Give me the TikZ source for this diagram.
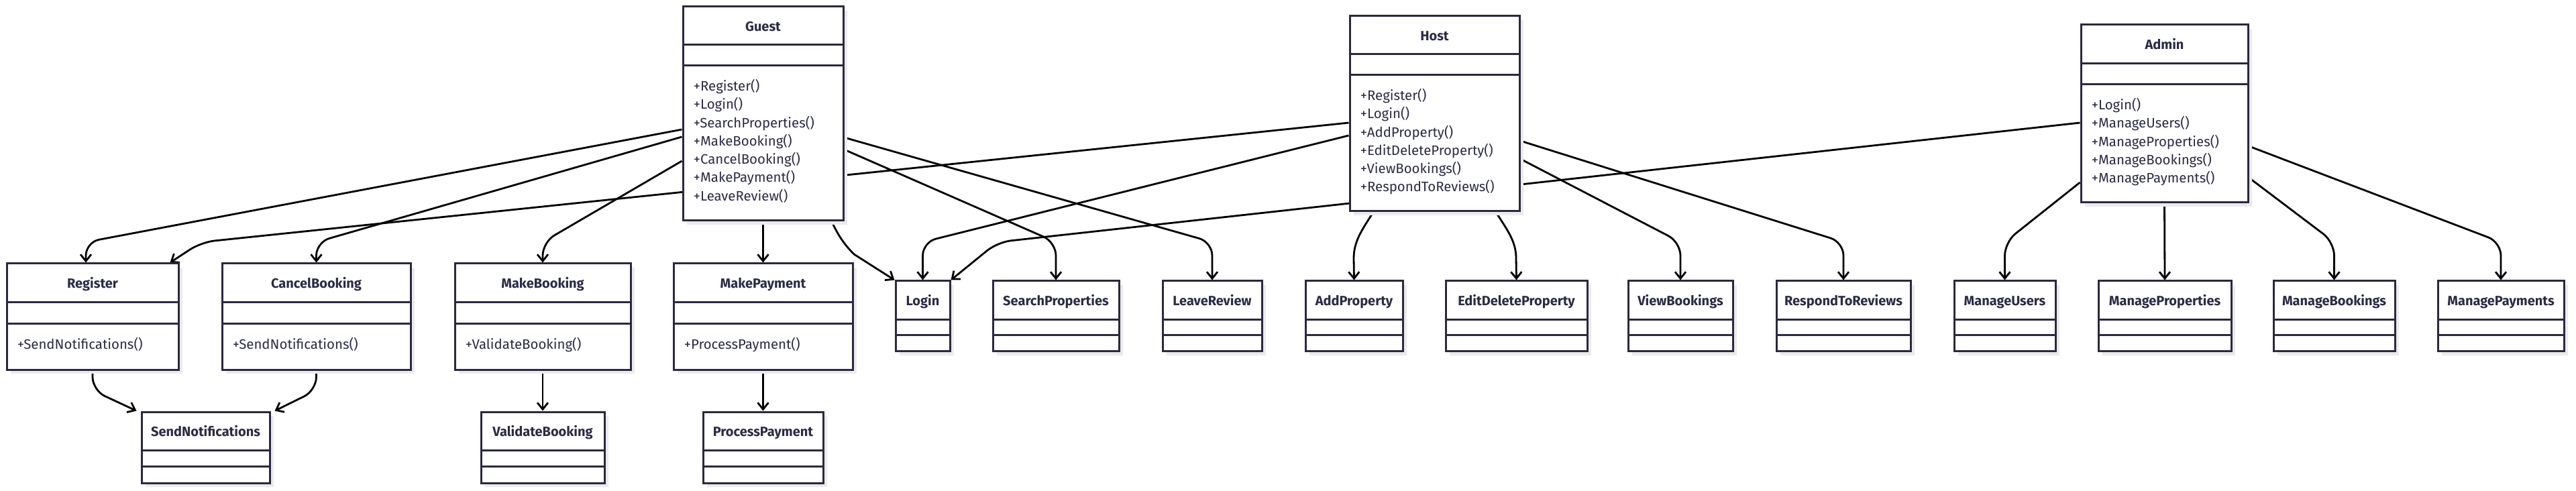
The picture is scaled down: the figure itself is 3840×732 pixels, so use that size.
\documentclass[tikz,border=0pt]{standalone}
\usepackage{fontspec}
\setmainfont{Fira Sans}
\usetikzlibrary{arrows.meta,calc,fit,shadows}
\definecolor{umlink}{HTML}{2A2940}
\definecolor{umltext}{HTML}{2B2B45}
\definecolor{umlshadow}{HTML}{EBEBEB}
\pgfdeclarelayer{background}
\pgfsetlayers{background,main}
\tikzset{
  classbox/.style={draw=umlink, line width=1.5pt, fill=white, inner sep=0pt,
    drop shadow={shadow xshift=3pt, shadow yshift=-3pt, fill=umlshadow, opacity=1}},
  divline/.style={draw=umlink, line width=1.4pt},
  titletext/.style={font=\bfseries\fontsize{10}{12}\selectfont, text=umltext, inner sep=0pt, anchor=base},
  methodtext/.style={font=\fontsize{10.2}{12}\selectfont, text=umltext, inner sep=0pt, anchor=base west},
  link/.style={draw=black, line width=1.4pt, -{Straight Barb[length=5pt,width=8pt,line width=1.4pt]}, rounded corners=10pt},
  linkc/.style={draw=black, line width=1.4pt, -{Straight Barb[length=5pt,width=8pt,line width=1.4pt]}},
}
% #1 name, #2 x1, #3 y1, #4 x2, #5 y2, #6 header height, #7 attribute height, #8 title
\newcommand{\umlclass}[8]{%
  \node[classbox, fit={(#2,#3) (#4,#5)}] (#1) {};
  \draw[divline] ($(#1.north west)+(0,#6)$) -- ($(#1.north east)+(0,#6)$);
  \draw[divline] ($(#1.north west)+(0,#6+#7)$) -- ($(#1.north east)+(0,#6+#7)$);
  \node[titletext] (#1-title) at ($(#1.north)+(0,38)$) {#8};
}
\newcommand{\umlmethods}[3]{%
  \foreach \m [count=\i] in {#3} {\node[methodtext] (#1-m\i) at ($(#1.north west)+(17,{#2+(\i-1)*27.3})$) {\m};}%
}
\begin{document}
\begin{tikzpicture}[x=0.5pt,y=-0.5pt]
\begin{pgfonlayer}{background}
  \fill[white] (0,0) rectangle (3840,732);
\end{pgfonlayer}
\useasboundingbox (0,0) rectangle (3840,732);

% top classes
\umlclass{guest}{1018}{10}{1257}{329}{58}{31}{Guest}
\umlmethods{guest}{127}{+Register(),+Login(),+SearchProperties(),+MakeBooking(),+CancelBooking(),+MakePayment(),+LeaveReview()}
\umlclass{host}{2012}{24}{2265}{315}{58}{31}{Host}
\umlmethods{host}{127}{+Register(),+Login(),+AddProperty(),+EditDeleteProperty(),+ViewBookings(),+RespondToReviews()}
\umlclass{admin}{3102}{37}{3351}{302}{59}{31}{Admin}
\umlmethods{admin}{128}{+Login(),+ManageUsers(),+ManageProperties(),+ManageBookings(),+ManagePayments()}

% second row with methods
\umlclass{register}{10}{393}{266}{551}{59}{32}{Register}
\umlmethods{register}{129}{+SendNotifications()}
\umlclass{cancel}{331}{393}{612}{551}{59}{32}{CancelBooking}
\umlmethods{cancel}{129}{+SendNotifications()}
\umlclass{makebooking}{678}{393}{940}{551}{59}{32}{MakeBooking}
\umlmethods{makebooking}{129}{+ValidateBooking()}
\umlclass{makepayment}{1004}{393}{1271}{551}{59}{32}{MakePayment}
\umlmethods{makepayment}{129}{+ProcessPayment()}

% second row, empty classes
\umlclass{login}{1335}{419}{1416}{524}{59}{23}{Login}
\umlclass{search}{1480}{419}{1668}{524}{59}{23}{SearchProperties}
\umlclass{leave}{1733}{419}{1881}{524}{59}{23}{LeaveReview}
\umlclass{addprop}{1946}{419}{2091}{524}{59}{23}{AddProperty}
\umlclass{editprop}{2155}{419}{2366}{524}{59}{23}{EditDeleteProperty}
\umlclass{view}{2427}{419}{2583}{524}{59}{23}{ViewBookings}
\umlclass{respond}{2648}{419}{2848}{524}{59}{23}{RespondToReviews}
\umlclass{musers}{2913}{419}{3064}{524}{59}{23}{ManageUsers}
\umlclass{mprops}{3128}{419}{3326}{524}{59}{23}{ManageProperties}
\umlclass{mbook}{3389}{419}{3570}{524}{59}{23}{ManageBookings}
\umlclass{mpay}{3634}{419}{3822}{524}{59}{23}{ManagePayments}

% third row
\umlclass{sendnot}{211}{614}{402}{720}{59}{24}{SendNotifications}
\umlclass{validate}{717}{614}{901}{720}{59}{24}{ValidateBooking}
\umlclass{process}{1048}{614}{1227}{720}{59}{24}{ProcessPayment}

\begin{pgfonlayer}{background}
  % Guest
  \draw[link] (guest.west |- 0,193) -- (128,361) -- (128,0 |- register.north);
  \draw[link] (guest.west |- 0,204) -- (cancel.north |- 0,361) -- (cancel.north);
  \draw[link] (guest.west |- 0,240) -- (makebooking.north |- 0,361) -- (makebooking.north);
  \draw[link] (guest.south) -- (makepayment.north);
  \draw[linkc] (1240,0 |- guest.south) .. controls (1249,350) and (1258,364) .. (1273,379) -- (login.north west);
  \draw[link] (guest.east |- 0,223) -- (search.north |- 0,361) -- (search.north);
  \draw[link] (guest.east |- 0,205) -- (leave.north |- 0,361) -- (leave.north);
  % Host
  \draw[link] (host.west |- 0,183) -- (300,361) -- ($(register.north east)+(-14,0)$);
  \draw[link] (host.west |- 0,202) -- (login.north |- 0,361) -- (login.north);
  \draw[linkc] (2047,0 |- host.south) .. controls (2030,343) and (2018,360) .. (2018,385) -- (addprop.north);
  \draw[linkc] (2230,0 |- host.south) .. controls (2247,343) and (2260,360) .. (2260,385) -- (editprop.north);
  \draw[link] (host.east |- 0,237) -- (view.north |- 0,361) -- (view.north);
  \draw[link] (host.east |- 0,210) -- (respond.north |- 0,361) -- (respond.north);
  % Admin
  \draw[link] (admin.west |- 0,183) -- (1487,361) -- (login.north east);
  \draw[link] (admin.west |- 0,272) -- (musers.north |- 0,361) -- (musers.north);
  \draw[link] (admin.south) -- (mprops.north);
  \draw[link] (admin.east |- 0,265) -- (mbook.north |- 0,361) -- (mbook.north);
  \draw[link] (admin.east |- 0,218) -- (mpay.north |- 0,361) -- (mpay.north);
  % lower level
  \draw[link] (register.south) -- (register.south |- 0,582) -- ($(sendnot.north west)+(-6,0)$);
  \draw[link] (cancel.south) -- (cancel.south |- 0,582) -- ($(sendnot.north east)+(6,0)$);
  \draw[link] (makebooking.south) -- (validate.north);
  \draw[link] (makepayment.south) -- (process.north);
\end{pgfonlayer}
\end{tikzpicture}
\end{document}
